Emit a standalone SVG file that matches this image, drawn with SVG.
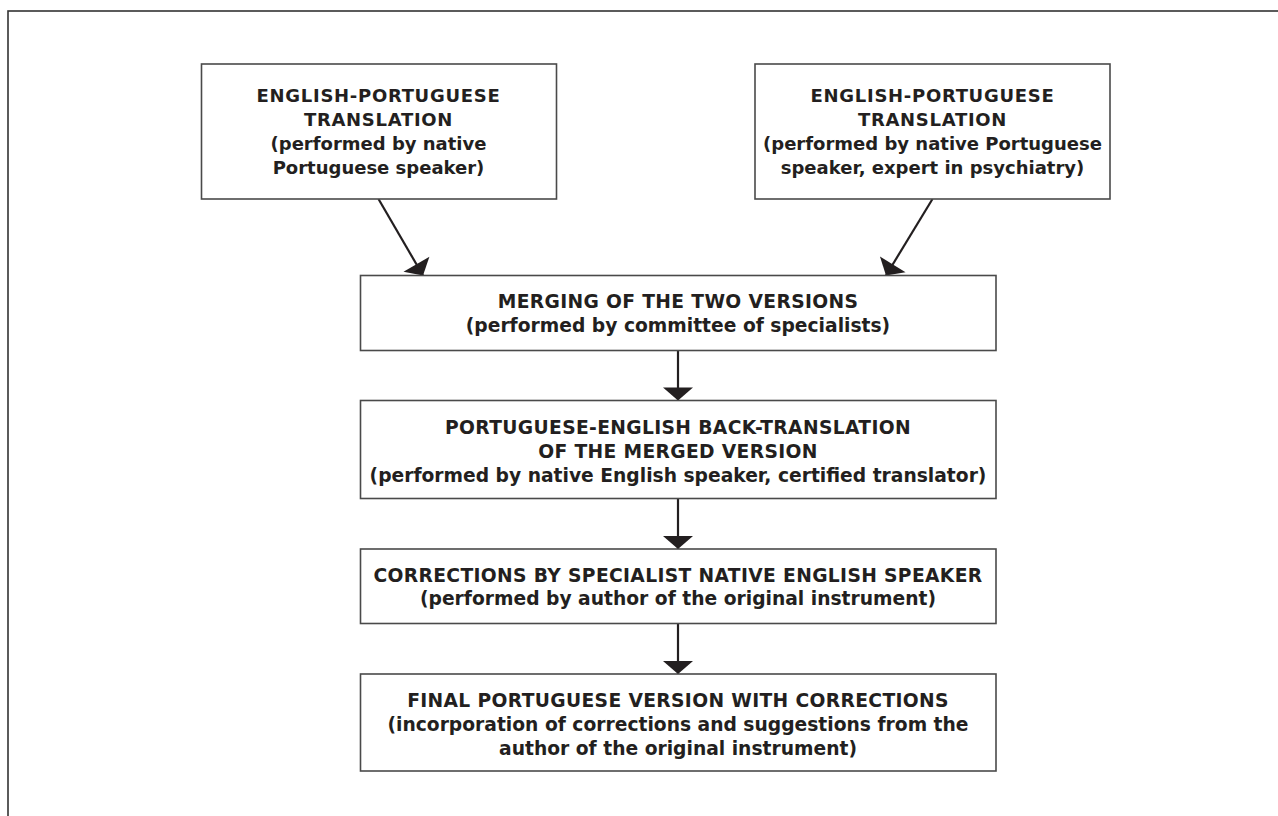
<svg xmlns="http://www.w3.org/2000/svg" width="1278" height="816" viewBox="0 0 1278 816">
<style>
.box{fill:#fff;stroke:#4a4a4a;stroke-width:1.6}
.frame{fill:none;stroke:#333;stroke-width:1.6}
.t{font-family:"DejaVu Sans","Verdana",sans-serif;font-weight:bold;fill:#231f20;text-anchor:middle}
.top{font-size:18px}
.low{font-size:18.7px}
.top.caps{letter-spacing:0.7px}
.low.caps{letter-spacing:0.35px}
.conn{stroke:#231f20;stroke-width:2.2;fill:none;marker-end:url(#ah)}
</style>
<defs>
<marker id="ah" markerUnits="userSpaceOnUse" markerWidth="14" markerHeight="32" refX="13" refY="16" orient="auto" overflow="visible">
<path d="M0,1 L13,16 L0,31 z" fill="#231f20"/>
</marker>
</defs>
<rect width="1278" height="816" fill="#fff"/>
<rect class="frame" x="8" y="11" width="1290" height="830"/>
<g id="connectors">
<line class="conn" x1="378.5" y1="199" x2="423" y2="275.5"/>
<line class="conn" x1="932.5" y1="199" x2="886" y2="275.5"/>
<line class="conn" x1="678" y1="351" x2="678" y2="400.5"/>
<line class="conn" x1="678" y1="499" x2="678" y2="549"/>
<line class="conn" x1="678" y1="623.5" x2="678" y2="674"/>
</g>
<g id="node-translation-1">
<rect class="box" x="201.5" y="64" width="355" height="135"/>
<text class="t top caps" x="378.5" y="101.7">ENGLISH-PORTUGUESE</text>
<text class="t top caps" x="378.5" y="126">TRANSLATION</text>
<text class="t top" x="378.5" y="150">(performed by native</text>
<text class="t top" x="378.5" y="174">Portuguese speaker)</text>
</g>
<g id="node-translation-2">
<rect class="box" x="755" y="64" width="355" height="135"/>
<text class="t top caps" x="932.5" y="101.7">ENGLISH-PORTUGUESE</text>
<text class="t top caps" x="932.5" y="126">TRANSLATION</text>
<text class="t top" x="932.5" y="150">(performed by native Portuguese</text>
<text class="t top" x="932.5" y="174">speaker, expert in psychiatry)</text>
</g>
<g id="node-merging">
<rect class="box" x="360.5" y="275.5" width="635.5" height="75"/>
<text class="t low caps" x="678" y="308.3">MERGING OF THE TWO VERSIONS</text>
<text class="t low" x="678" y="332.3">(performed by committee of specialists)</text>
</g>
<g id="node-back-translation">
<rect class="box" x="360.5" y="400.5" width="635.5" height="98"/>
<text class="t low caps" x="678" y="434">PORTUGUESE-ENGLISH BACK-TRANSLATION</text>
<text class="t low caps" x="678" y="457.5">OF THE MERGED VERSION</text>
<text class="t low" x="678" y="481.5">(performed by native English speaker, certified translator)</text>
</g>
<g id="node-corrections">
<rect class="box" x="360.5" y="549" width="635.5" height="74.5"/>
<text class="t low caps" x="678" y="581.7">CORRECTIONS BY SPECIALIST NATIVE ENGLISH SPEAKER</text>
<text class="t low" x="678" y="605">(performed by author of the original instrument)</text>
</g>
<g id="node-final">
<rect class="box" x="360.5" y="674" width="635.5" height="97"/>
<text class="t low caps" x="678" y="706.7">FINAL PORTUGUESE VERSION WITH CORRECTIONS</text>
<text class="t low" x="678" y="730.8">(incorporation of corrections and suggestions from the</text>
<text class="t low" x="678" y="754.5">author of the original instrument)</text>
</g>
</svg>
